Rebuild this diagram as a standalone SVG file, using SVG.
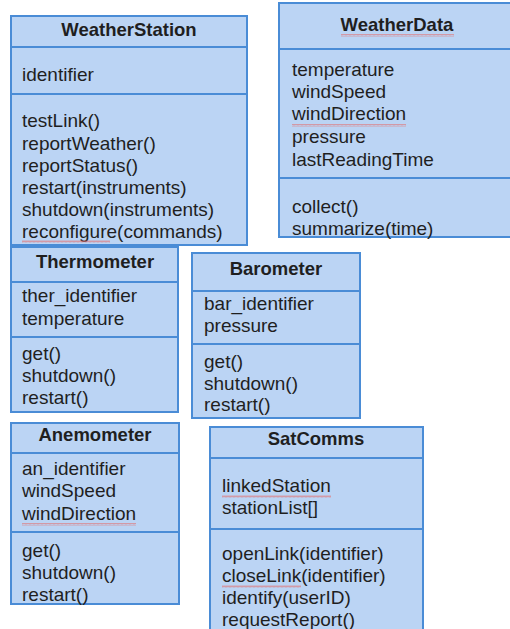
<svg xmlns="http://www.w3.org/2000/svg" width="510" height="629" viewBox="0 0 510 629">
<style>
.box{fill:#bbd4f4;stroke:#4a8cd6;stroke-width:2}
.div{stroke:#4a8cd6;stroke-width:2}
text{font-family:"Liberation Sans",Arial,sans-serif;font-size:19px;fill:#1f1f1f}
.t{font-weight:bold;font-size:18.5px;text-anchor:middle}
.sq{fill:url(#squig)}
</style>
<defs>
<pattern id="squig" x="0" y="0" width="4" height="3" patternUnits="userSpaceOnUse">
<path d="M0,2.5 L1,0.5 L2,2.5 L3,0.5 L4,2.5" fill="none" stroke="#e07070" stroke-width="0.6"/>
</pattern>
</defs>
<rect width="510" height="629" fill="#ffffff"/>
<g id="WeatherStation">
<rect class="box" x="11" y="16" width="236" height="229"/>
<line class="div" x1="11" y1="47" x2="247" y2="47"/>
<line class="div" x1="11" y1="94" x2="247" y2="94"/>
<text class="t" x="129" y="36">WeatherStation</text>
<text x="22" y="81">identifier</text>
<text x="22" y="127">testLink()</text>
<text x="22" y="150">reportWeather()</text>
<text x="22" y="172">reportStatus()</text>
<text x="22" y="194">restart(instruments)</text>
<text x="22" y="216">shutdown(instruments)</text>
<text x="22" y="238">reconfigure(commands)</text>
<rect class="sq" x="22" y="240" width="88" height="3"/>
</g>
<g id="WeatherData">
<rect class="box" x="279" y="3" width="237" height="234"/>
<line class="div" x1="279" y1="49" x2="516" y2="49"/>
<line class="div" x1="279" y1="178" x2="516" y2="178"/>
<text class="t" x="397" y="31">WeatherData</text>
<rect class="sq" x="341" y="34" width="113" height="3"/>
<text x="292" y="76">temperature</text>
<text x="292" y="98">windSpeed</text>
<text x="292" y="120">windDirection</text>
<rect class="sq" x="292" y="124" width="114" height="3"/>
<text x="292" y="143">pressure</text>
<text x="292" y="166">lastReadingTime</text>
<text x="292" y="213">collect()</text>
<text x="292" y="235">summarize(time)</text>
</g>
<g id="Thermometer">
<rect class="box" x="11" y="247" width="167" height="165"/>
<line class="div" x1="11" y1="282" x2="178" y2="282"/>
<line class="div" x1="11" y1="337" x2="178" y2="337"/>
<text class="t" x="95" y="268">Thermometer</text>
<text x="22" y="302">ther_identifier</text>
<text x="22" y="325">temperature</text>
<text x="22" y="360">get()</text>
<text x="22" y="382">shutdown()</text>
<text x="22" y="404">restart()</text>
</g>
<g id="Barometer">
<rect class="box" x="192" y="253" width="168" height="165"/>
<line class="div" x1="192" y1="291" x2="360" y2="291"/>
<line class="div" x1="192" y1="344" x2="360" y2="344"/>
<text class="t" x="276" y="275">Barometer</text>
<text x="204" y="310">bar_identifier</text>
<text x="204" y="332">pressure</text>
<text x="204" y="368">get()</text>
<text x="204" y="390">shutdown()</text>
<text x="204" y="411">restart()</text>
</g>
<g id="Anemometer">
<rect class="box" x="11" y="423" width="168" height="181"/>
<line class="div" x1="11" y1="453" x2="179" y2="453"/>
<line class="div" x1="11" y1="532" x2="179" y2="532"/>
<text class="t" x="95" y="441">Anemometer</text>
<text x="22" y="475">an_identifier</text>
<text x="22" y="497">windSpeed</text>
<text x="22" y="520">windDirection</text>
<rect class="sq" x="22" y="523" width="114" height="3"/>
<text x="22" y="557">get()</text>
<text x="22" y="579">shutdown()</text>
<text x="22" y="601">restart()</text>
</g>
<g id="SatComms">
<rect class="box" x="210" y="427" width="213" height="210"/>
<line class="div" x1="210" y1="458" x2="423" y2="458"/>
<line class="div" x1="210" y1="529" x2="423" y2="529"/>
<text class="t" x="316" y="445">SatComms</text>
<text x="222" y="492">linkedStation</text>
<rect class="sq" x="222" y="495" width="109" height="3"/>
<text x="222" y="514">stationList[]</text>
<text x="222" y="560">openLink(identifier)</text>
<text x="222" y="582">closeLink(identifier)</text>
<rect class="sq" x="222" y="585" width="79" height="3"/>
<text x="222" y="604">identify(userID)</text>
<text x="222" y="626">requestReport()</text>
</g>
<g id="connectors"></g>
</svg>
